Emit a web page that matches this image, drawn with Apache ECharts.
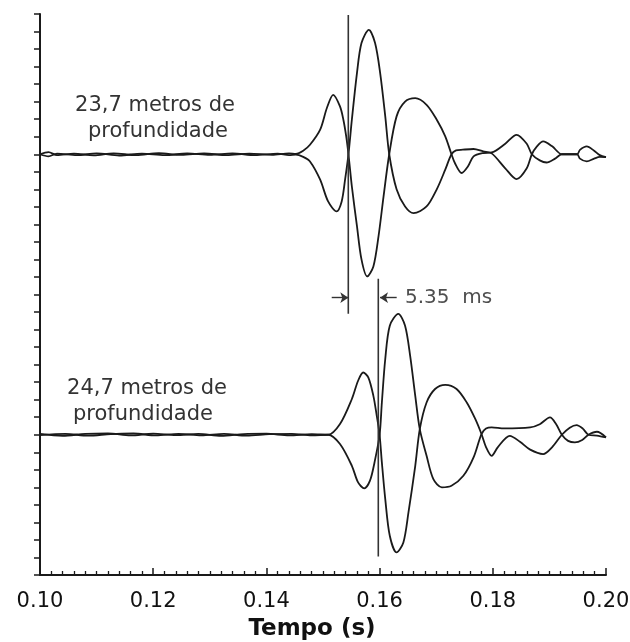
<!DOCTYPE html>
<html>
<head>
<meta charset="utf-8">
<script src="https://cdn.jsdelivr.net/npm/echarts@6/dist/echarts.min.js"></script>
<style>
  html, body { margin: 0; padding: 0; background: #fff; }
  #main { width: 630px; height: 642px; }
</style>
</head>
<body>
<div id="main"></div>
<script>
// tempo (s) e amplitude de cada traço
// 23,7 m: traço que sobe primeiro / traço que desce primeiro
const topUp = [
  [0.100, 0.0], [0.1015, 0.12], [0.1030, -0.05], [0.1060, 0.04], [0.1095, -0.06],
  [0.1130, 0.05], [0.1170, -0.05], [0.1210, 0.06], [0.1250, -0.04], [0.1290, 0.05],
  [0.1330, -0.05], [0.1370, 0.04], [0.1410, -0.03], [0.1440, 0.05], [0.1452, 0.02],
  [0.1465, 0.20], [0.1477, 0.54], [0.1495, 1.40], [0.1507, 2.65], [0.1518, 3.39],
  [0.1530, 2.73], [0.1536, 1.97], [0.1541, 1.02], [0.1545, 0.0],
  [0.1551, -1.84], [0.1560, -4.10], [0.1568, -6.00], [0.1578, -6.97], [0.1589, -6.40],
  [0.1598, -4.70], [0.1607, -2.40], [0.1617, 0.0],
  [0.1630, 2.16], [0.1645, 3.00], [0.1663, 3.20], [0.1683, 2.82], [0.1701, 1.97],
  [0.1716, 1.02], [0.1727, 0.0],
  [0.1733, -0.50], [0.1745, -1.07], [0.1756, -0.70], [0.1766, -0.12], [0.1783, 0.07],
  [0.1798, 0.10], [0.1822, 0.60], [0.1842, 1.11], [0.1860, 0.60], [0.1869, 0.0],
  [0.1883, -0.35], [0.1895, -0.47], [0.1910, -0.25], [0.1922, 0.0], [0.1949, 0.0],
  [0.1954, 0.25], [0.1966, 0.45], [0.1979, 0.20], [0.1989, -0.05], [0.2000, -0.16]
];
const topDown = [
  [0.100, 0.0], [0.1015, -0.12], [0.1030, 0.04], [0.1065, -0.05], [0.1100, 0.05],
  [0.1140, -0.07], [0.1180, 0.04], [0.1220, -0.05], [0.1260, 0.05], [0.1300, -0.04],
  [0.1340, 0.05], [0.1380, -0.05], [0.1420, 0.04], [0.1440, -0.05], [0.1452, -0.02],
  [0.1465, -0.15], [0.1477, -0.41], [0.1495, -1.45], [0.1509, -2.69], [0.1524, -3.26],
  [0.1533, -2.69], [0.1539, -1.45], [0.1545, 0.0],
  [0.1551, 1.97], [0.1560, 4.63], [0.1568, 6.34], [0.1581, 7.10], [0.1592, 6.34],
  [0.1601, 4.63], [0.1610, 2.16], [0.1617, 0.0],
  [0.1630, -2.00], [0.1645, -2.98], [0.1660, -3.36], [0.1683, -2.98], [0.1701, -2.00],
  [0.1716, -0.88], [0.1727, 0.0],
  [0.1735, 0.22], [0.1747, 0.26], [0.1766, 0.30], [0.1783, 0.16], [0.1798, 0.05],
  [0.1822, -0.80], [0.1842, -1.42], [0.1860, -0.80], [0.1869, 0.0],
  [0.1878, 0.45], [0.1889, 0.73], [0.1905, 0.45], [0.1922, 0.0], [0.1949, 0.0],
  [0.1954, -0.25], [0.1966, -0.41], [0.1979, -0.25], [0.1989, -0.15], [0.2000, -0.16]
];
// 24,7 m
const bottomUp = [
  [0.100, 0.05], [0.1040, -0.06], [0.1080, 0.05], [0.1120, 0.08], [0.1160, -0.04],
  [0.1200, 0.06], [0.1240, -0.02], [0.1280, 0.05], [0.1320, -0.06], [0.1360, 0.04],
  [0.1400, 0.06], [0.1440, -0.03], [0.1480, 0.03], [0.1509, 0.0],
  [0.1530, 0.61], [0.1551, 2.04], [0.1562, 3.08], [0.1571, 3.55], [0.1580, 3.27],
  [0.1589, 2.22], [0.1595, 1.08], [0.1600, 0.0],
  [0.1604, -1.58], [0.1610, -3.67], [0.1618, -5.76], [0.1630, -6.71], [0.1642, -6.14],
  [0.1651, -4.43], [0.1663, -1.77], [0.1671, 0.32],
  [0.1683, 1.84], [0.1698, 2.61], [0.1716, 2.85], [0.1736, 2.61], [0.1754, 1.84],
  [0.1769, 0.90], [0.1780, 0.04],
  [0.1788, -0.70], [0.1798, -1.20], [0.1809, -0.70], [0.1830, -0.06], [0.1848, -0.40],
  [0.1866, -0.85], [0.1889, -1.10], [0.1905, -0.70], [0.1922, 0.0],
  [0.1936, 0.40], [0.1948, 0.55], [0.1959, 0.35], [0.1969, 0.0], [0.1984, -0.05],
  [0.2000, -0.15]
];
const bottomDown = [
  [0.100, -0.02], [0.1045, 0.05], [0.1085, -0.05], [0.1125, 0.04], [0.1165, 0.07],
  [0.1205, -0.04], [0.1245, 0.05], [0.1285, -0.03], [0.1325, 0.05], [0.1365, -0.05],
  [0.1405, 0.03], [0.1445, 0.05], [0.1480, -0.03], [0.1509, 0.0],
  [0.1530, -0.53], [0.1551, -1.77], [0.1562, -2.72], [0.1573, -3.06], [0.1583, -2.62],
  [0.1591, -1.58], [0.1600, 0.0],
  [0.1604, 1.84], [0.1610, 4.32], [0.1618, 6.22], [0.1633, 6.89], [0.1645, 6.22],
  [0.1654, 4.50], [0.1663, 2.22], [0.1671, 0.32],
  [0.1683, -1.20], [0.1695, -2.53], [0.1710, -3.00], [0.1727, -2.91], [0.1748, -2.34],
  [0.1766, -1.29], [0.1780, 0.04],
  [0.1788, 0.35], [0.1798, 0.42], [0.1820, 0.36], [0.1866, 0.42], [0.1883, 0.60],
  [0.1901, 0.99], [0.1912, 0.60], [0.1922, 0.0],
  [0.1933, -0.35], [0.1945, -0.44], [0.1958, -0.30], [0.1969, 0.0], [0.1984, 0.17],
  [0.2000, -0.15]
];

// linhas verticais de chegada da onda (tempo, início e fim em y)
const pickTimes = [0.15447, 0.15977];
const pickFrom = [14.9, 1.05];
const pickTo = [31.95, 16.9];
const delayLabel = '5.35  ms';
const xTicks = [0.10, 0.12, 0.14, 0.16, 0.18, 0.20];

const topBase = 24;
const bottomBase = 8;
const ink = '#1a1a1a';

function trace (points, base) {
  return {
    type: 'line',
    smooth: 0.3,
    showSymbol: false,
    silent: true,
    lineStyle: { color: ink, width: 1.8 },
    data: points.map(p => [p[0], base + p[1]])
  };
}

const series = [
  trace(topUp, topBase),
  trace(topDown, topBase),
  trace(bottomUp, bottomBase),
  trace(bottomDown, bottomBase)
];

pickTimes.forEach((t, i) => {
  series.push({
    type: 'line',
    showSymbol: false,
    silent: true,
    lineStyle: { color: '#333', width: 1.6 },
    data: [[t, pickFrom[i]], [t, pickTo[i]]]
  });
});

// setas do atraso
const arrowY = 15.82;
series.push({
  type: 'scatter',
  symbolSize: 0,
  silent: true,
  data: [[0.16449, arrowY]],
  label: {
    show: true,
    position: 'right',
    distance: 0,
    formatter: delayLabel,
    color: '#222',
    fontFamily: 'DejaVu Sans',
    fontSize: 20
  },
  markLine: {
    silent: true,
    symbol: ['none', 'arrow'],
    symbolSize: 8,
    label: { show: false },
    lineStyle: { color: '#333', width: 1.4, type: 'solid' },
    data: [
      [{ coord: [0.15154, arrowY] }, { coord: [pickTimes[0], arrowY] }],
      [{ coord: [0.16302, arrowY] }, { coord: [0.16007, arrowY] }]
    ]
  }
});

const labelFont = '21px "DejaVu Sans"';
const chart = echarts.init(document.getElementById('main'));
chart.setOption({
  animation: false,
  backgroundColor: '#fff',
  grid: { left: 40, right: 24, top: 14, bottom: 67, containLabel: false, outerBoundsMode: 'none' },
  xAxis: {
    type: 'value',
    min: xTicks[0],
    max: xTicks[xTicks.length - 1],
    interval: 0.02,
    name: 'Tempo (s)',
    nameLocation: 'middle',
    nameGap: 43,
    nameTextStyle: {
      color: '#111', fontFamily: 'DejaVu Sans', fontWeight: 'bold', fontSize: 23,
      padding: [0, 22, 0, 0]
    },
    axisLine: { lineStyle: { color: ink, width: 2 } },
    axisTick: { inside: true, length: 7, lineStyle: { color: ink, width: 1.5 } },
    minorTick: { show: true, splitNumber: 10, length: 4, lineStyle: { color: ink, width: 1.3 } },
    splitLine: { show: false },
    axisLabel: {
      margin: 16,
      color: '#111',
      fontFamily: 'DejaVu Sans',
      fontSize: 21,
      formatter: v => v.toFixed(2)
    }
  },
  yAxis: {
    type: 'value',
    min: 0,
    max: 32,
    interval: 1,
    axisLine: { show: true, lineStyle: { color: ink, width: 2 } },
    axisTick: { show: true, inside: false, length: 6, lineStyle: { color: ink, width: 1.5 } },
    axisLabel: { show: false },
    splitLine: { show: false }
  },
  graphic: [
    { type: 'text', x: 155, y: 106, style: { text: '23,7 metros de', align: 'center', verticalAlign: 'middle', fill: '#333', font: labelFont } },
    { type: 'text', x: 158, y: 132, style: { text: 'profundidade', align: 'center', verticalAlign: 'middle', fill: '#333', font: labelFont } },
    { type: 'text', x: 147, y: 389, style: { text: '24,7 metros de', align: 'center', verticalAlign: 'middle', fill: '#333', font: labelFont } },
    { type: 'text', x: 143, y: 415, style: { text: 'profundidade', align: 'center', verticalAlign: 'middle', fill: '#333', font: labelFont } }
  ],
  series: series
});
</script>
</body>
</html>
